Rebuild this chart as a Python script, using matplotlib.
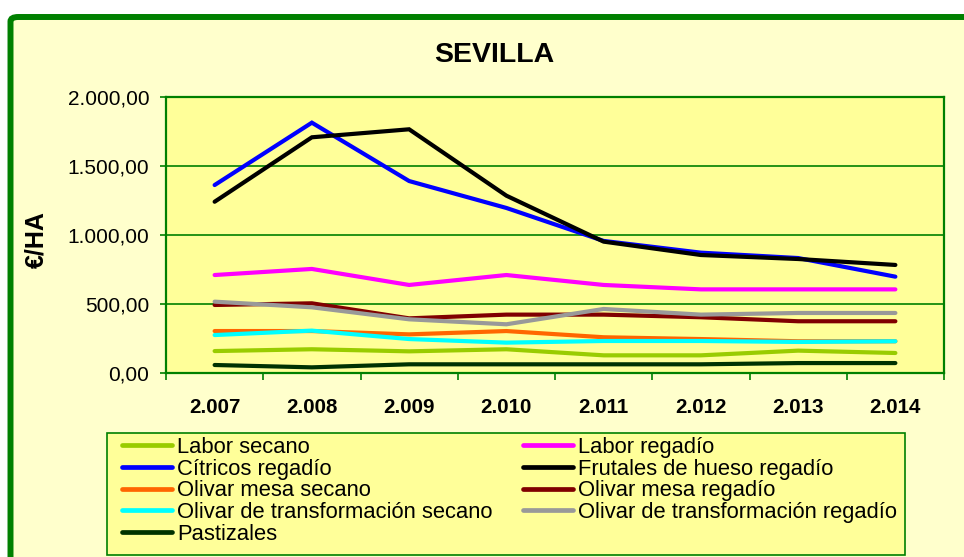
import matplotlib
matplotlib.use("Agg")
import matplotlib.pyplot as plt
from matplotlib.patches import FancyBboxPatch, Rectangle
from matplotlib.ticker import FuncFormatter, FixedLocator

plt.rcParams['font.family'] = ['Liberation Sans', 'DejaVu Sans']

years = ["2.007", "2.008", "2.009", "2.010", "2.011", "2.012", "2.013", "2.014"]
series_names = ["Labor secano", "Labor regadío", "Cítricos regadío",
                "Frutales de hueso regadío", "Olivar mesa secano",
                "Olivar mesa regadío", "Olivar de transformación secano",
                "Olivar de transformación regadío", "Pastizales"]
labor_secano = [159, 172, 157, 172, 128, 128, 162, 145]
labor_regadio = [710, 754, 638, 710, 638, 606, 606, 606]
citricos_regadio = [1362, 1814, 1391, 1196, 957, 872, 833, 698]
frutales_regadio = [1241, 1708, 1766, 1285, 952, 855, 826, 783]
olivar_mesa_secano = [304, 304, 280, 304, 259, 246, 230, 230]
olivar_mesa_regadio = [493, 505, 396, 423, 423, 404, 375, 375]
olivar_transf_secano = [275, 307, 246, 220, 232, 232, 225, 230]
olivar_transf_regadio = [517, 476, 389, 353, 464, 423, 435, 435]
pastizales = [58, 41, 63, 63, 63, 63, 72, 72]

all_series = [labor_secano, labor_regadio, citricos_regadio, frutales_regadio,
              olivar_mesa_secano, olivar_mesa_regadio, olivar_transf_secano,
              olivar_transf_regadio, pastizales]
colors = ["#99CC00", "#FF00FF", "#0000FF", "#000000", "#FF6600",
          "#800000", "#00FFFF", "#999999", "#003300"]

W, H = 964, 557
fig = plt.figure(figsize=(W / 100, H / 100), dpi=100)
fig.patch.set_facecolor("white")
green = "#008000"

# outer chart frame
frame = FancyBboxPatch((10.5 / W, -0.2), 1.2, (H - 17) / H + 0.2,
                       boxstyle="round,pad=0,rounding_size=0.008",
                       transform=fig.transFigure, facecolor="#FFFFCC",
                       edgecolor=green, linewidth=4.3, zorder=-10)
fig.patches.append(frame)

# legend box
legbox = Rectangle((107 / W, 1 - 555 / H), (905 - 107) / W, (555 - 433) / H,
                   transform=fig.transFigure, facecolor="#FFFF99",
                   edgecolor=green, linewidth=1.2, zorder=-5)
fig.patches.append(legbox)

ax = fig.add_axes([166 / W, 1 - 373 / H, (944 - 166) / W, (373 - 97) / H])
ax.set_zorder(1)
ax.set_facecolor("#FFFF99")
x = list(range(len(years)))
handles = []
for name, vals, c in zip(series_names, all_series, colors):
    h, = ax.plot(x, vals, color=c, linewidth=3.0, label=name,
                 solid_joinstyle="miter", solid_capstyle="round")
    handles.append(h)

ax.set_xlim(-0.5, len(years) - 0.5)
ax.set_ylim(0, 2000)
ax.set_yticks([0, 500, 1000, 1500, 2000])
ax.yaxis.set_major_formatter(FuncFormatter(
    lambda v, p: "{:,.2f}".format(v).replace(",", "X").replace(".", ",").replace("X", ".")))
ax.set_xticks(x)
ax.set_xticklabels(years, fontsize=14.8, fontweight="bold")
ax.xaxis.set_minor_locator(FixedLocator([i - 0.5 for i in range(len(years) + 1)]))
ax.tick_params(axis="x", which="major", length=0, pad=18)
ax.tick_params(axis="x", which="minor", length=5, width=1.2, color=green, direction="out")
ax.tick_params(axis="y", length=4, width=1.2, color=green, pad=8, labelsize=15)
ax.grid(axis="y", color=green, linewidth=1.2)
ax.set_axisbelow(True)
for s in ax.spines.values():
    s.set_color(green)
    s.set_linewidth(1.6)

fig.text(494 / W, 1 - 55 / H, "SEVILLA", fontsize=20.5, fontweight="bold",
         ha="center", va="center")
fig.text(36 / W, 1 - 240 / H, "€/HA", fontsize=18, fontweight="bold",
         rotation=90, ha="center", va="center")

order = [0, 2, 4, 6, 8, 1, 3, 5, 7]
leg = fig.legend([handles[i] for i in order], [series_names[i] for i in order],
                 ncol=2, loc="upper left",
                 bbox_to_anchor=(122 / W, 1 - 437 / H),
                 fontsize=15.8, frameon=False,
                 handlelength=2.28, handletextpad=0.23, labelspacing=0.03,
                 borderaxespad=0, borderpad=0, columnspacing=1.37)
for lh in leg.get_lines():
    lh.set_linewidth(3.4)
leg.set_zorder(2)

fig.savefig("out.png", dpi=100, facecolor=fig.get_facecolor())
